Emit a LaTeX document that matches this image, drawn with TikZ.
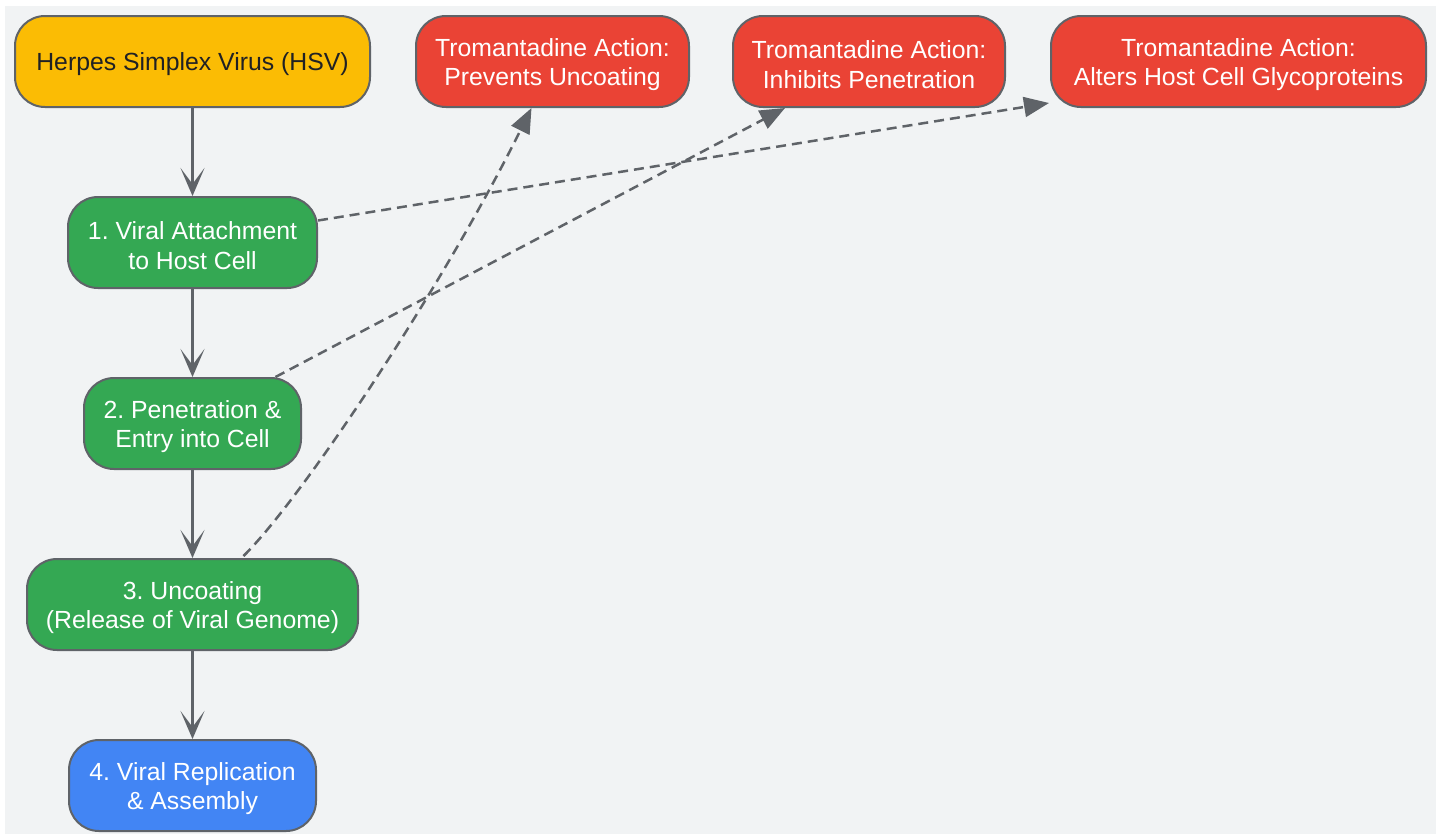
\documentclass[tikz,border=0pt]{standalone}
\usepackage{fontspec}
\setmainfont{Liberation Sans}
\frenchspacing
\usetikzlibrary{arrows.meta,calc}
\definecolor{bgc}{HTML}{F1F3F4}
\definecolor{edgec}{HTML}{5F6368}
\definecolor{yel}{HTML}{FBBC04}
\definecolor{grn}{HTML}{34A853}
\definecolor{redc}{HTML}{EA4335}
\definecolor{blu}{HTML}{4285F4}
\definecolor{darktext}{HTML}{202124}
\tikzset{
  box/.style={draw=edgec, line width=2pt, rounded corners=30pt, inner sep=0pt,
    minimum height=91pt},
  boxtext/.style={align=center, inner sep=0pt, yshift=-3pt,
    font=\fontsize{24.8pt}{29.5pt}\selectfont},
  yelbox/.style={box, fill=yel},
  grnbox/.style={box, fill=grn},
  redbox/.style={box, fill=redc},
  blubox/.style={box, fill=blu},
  darklabel/.style={boxtext, text=darktext},
  whitelabel/.style={boxtext, text=white},
  flow/.style={draw=edgec, line width=2.5pt,
    -{Stealth[length=28pt,width=24pt,inset=16pt]}},
  dasharrow/.style={draw=edgec, line width=2.5pt, dash pattern=on 10pt off 6pt,
    -{Triangle[length=25pt,width=20pt]}}
}
\begin{document}
\begin{tikzpicture}[x=1pt,y=-1pt]
\useasboundingbox (0,0) rectangle (1442,835);
\fill[white] (0,0) rectangle (1442,835);
\fill[bgc] (5,6) rectangle (1436,834);

\node[yelbox, minimum width=355pt] (hsv) at (192.5,61.5) {};
\node[redbox, minimum width=273pt] (prev) at (552.5,61.5) {};
\node[redbox, minimum width=272pt] (inh) at (869,61.5) {};
\node[redbox, minimum width=375pt] (alt) at (1238.5,61.5) {};
\node[grnbox, minimum width=249pt] (n1) at (192.5,242.5) {};
\node[grnbox, minimum width=217pt] (n2) at (192.5,423.5) {};
\node[grnbox, minimum width=331pt] (n3) at (192.5,604.5) {};
\node[blubox, minimum width=247pt] (n4) at (192.5,785.5) {};

\node[darklabel] (hsvt) at (hsv.center) {Herpes Simplex Virus (HSV)};
\node[whitelabel] (prevt) at (prev.center) {Tromantadine Action:\\Prevents Uncoating};
\node[whitelabel] (inht) at (inh.center) {Tromantadine Action:\\Inhibits Penetration};
\node[whitelabel] (altt) at (alt.center) {Tromantadine Action:\\Alters Host Cell Glycoproteins};
\node[whitelabel] (n1t) at (n1.center) {1. Viral Attachment\\to Host Cell};
\node[whitelabel] (n2t) at (n2.center) {2. Penetration \&\\Entry into Cell};
\node[whitelabel] (n3t) at (n3.center) {3. Uncoating\\(Release of Viral Genome)};
\node[whitelabel] (n4t) at (n4.center) {4. Viral Replication\\\& Assembly};

\draw[flow] (hsv.south) -- (n1.north);
\draw[flow] (n1.south) -- (n2.north);
\draw[flow] (n2.south) -- (n3.north);
\draw[flow] (n3.south) -- (n4.north);

\draw[dasharrow] ([yshift=22pt]n1.east) -- ([shift={(-1pt,5pt)}]alt.south west);
\draw[dasharrow] ([xshift=83pt]n2.north) -- ([xshift=-84pt]inh.south);
\draw[dasharrow] ([xshift=51pt,yshift=2pt]n3.north) .. controls +(57,-56) and +(-91,183) .. ([xshift=-21pt]prev.south);
\end{tikzpicture}
\end{document}
